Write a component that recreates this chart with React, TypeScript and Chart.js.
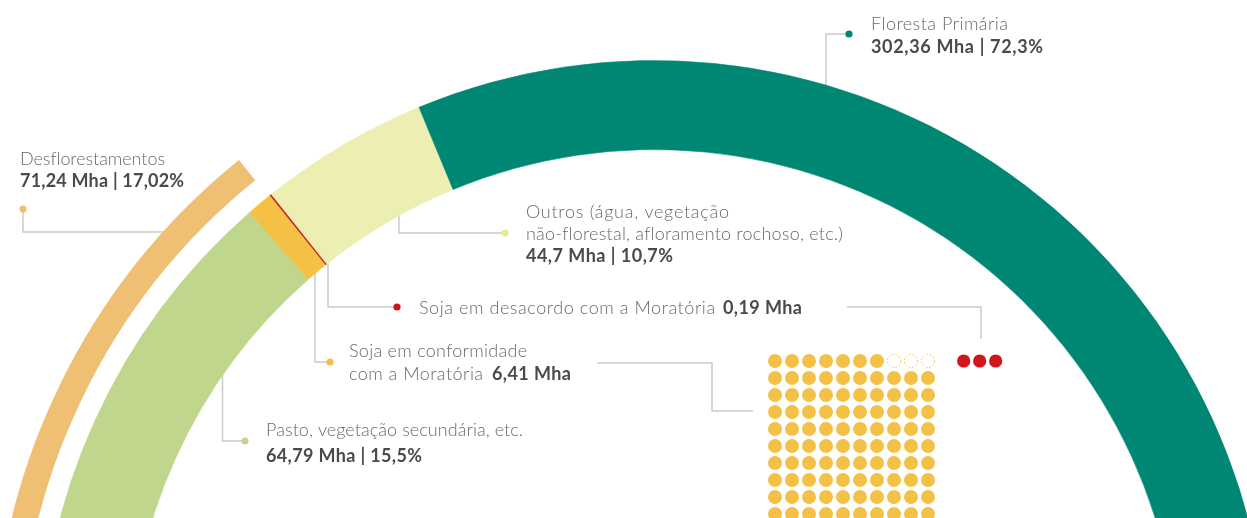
import { useEffect, useRef } from "react";
import { Chart, registerables } from "chart.js";

Chart.register(...registerables);

// ---------------- data ----------------
const ringCategories = [
  "Pasto, vegetação secundária, etc.",
  "Soja em conformidade com a Moratória",
  "Soja em desacordo com a Moratória",
  "Outros (água, vegetação não-florestal, afloramento rochoso, etc.)",
  "Floresta Primária",
];
// area of each land-use class (Mha) and share of the biome (%) as labelled
const ringAreaMha = [64.79, 6.41, 0.19, 44.7, 302.36];
const ringSharePct = [15.5, 1.53, 0.05, 10.7, 72.3];
// span of each segment on the half ring, as drawn in the picture (degrees out of 180)
const ringDrawnDeg = [48.8, 2.5, 0.15, 16.05, 112.5];
const ringColors = ["#BFD68C", "#F4C145", "#D0121B", "#ECEEB2", "#008774"];

const deforestLabel = "Desflorestamentos";
const deforestAreaMha = 71.24;
const deforestSharePct = 17.02;
const deforestDrawnDeg = 51.1; // span drawn in the picture (degrees out of 180)
const deforestColor = "#EFC074";

// dot grid (waffle) next to the soy labels
const waffleFilled = 97;
const waffleEmpty = 3;
const waffleRed = 3;
const waffleColumns = 10;
const waffleYellow = "#F4C147";
const waffleRedColor = "#D0161C";

// ---------------- helpers ----------------
const fmt = (v: number) => String(v).replace(".", ",");

const LIGHT = "300 18px Lato, 'Open Sans', sans-serif";
const BOLD = "700 18px Lato, 'Open Sans', sans-serif";
const LIGHT_COLOR = "#696969";
const BOLD_COLOR = "#4a4a4a";
const LINE_COLOR = "#cacaca";

// canvas placement (page pixels)
const RING_LEFT = -46;
const RING_TOP = -56;
const RING_W = 1400;
const RING_H = 800;
const OUTER_R = 661;
const INNER_R = 525;

type Run = { text: string; x: number; y: number; w: number; bold?: boolean };

function buildRuns(): Run[] {
  const [pasto, conf, desac, outros, floresta] = [0, 1, 2, 3, 4];
  return [
    { text: ringCategories[floresta], x: 871, y: 30, w: 137 },
    { text: `${fmt(ringAreaMha[floresta])} Mha | ${fmt(ringSharePct[floresta])}%`, x: 871, y: 53, w: 172, bold: true },
    { text: deforestLabel, x: 20, y: 165, w: 145 },
    { text: `${fmt(deforestAreaMha)} Mha | ${fmt(deforestSharePct)}%`, x: 20, y: 186.5, w: 164, bold: true },
    { text: "Outros (água, vegetação", x: 526, y: 218, w: 203 },
    { text: "não-florestal, afloramento rochoso, etc.)", x: 526, y: 240, w: 317 },
    { text: `${fmt(ringAreaMha[outros])} Mha | ${fmt(ringSharePct[outros])}%`, x: 526, y: 262, w: 147, bold: true },
    { text: ringCategories[desac], x: 419, y: 314, w: 296 },
    { text: `${fmt(ringAreaMha[desac])} Mha`, x: 723, y: 314, w: 79, bold: true },
    { text: "Soja em conformidade", x: 349, y: 357, w: 178 },
    { text: "com a Moratória", x: 349, y: 380, w: 134 },
    { text: `${fmt(ringAreaMha[conf])} Mha`, x: 492, y: 380, w: 79, bold: true },
    { text: ringCategories[pasto], x: 266, y: 436, w: 257 },
    { text: `${fmt(ringAreaMha[pasto])} Mha | ${fmt(ringSharePct[pasto])}%`, x: 266, y: 461.5, w: 156, bold: true },
  ];
}

const leaders: { pts: number[][]; dot?: string }[] = [
  { pts: [[849, 34], [826, 34], [826, 100]], dot: ringColors[4] },
  { pts: [[23, 209], [23, 232], [182, 232]], dot: deforestColor },
  { pts: [[505, 233], [399, 233], [399, 200]], dot: "#E6E8A2" },
  { pts: [[397, 307], [328, 307], [328, 250]], dot: ringColors[2] },
  { pts: [[330, 362], [315, 362], [315, 260]], dot: ringColors[1] },
  { pts: [[245, 441], [222.5, 441], [222.5, 360]], dot: ringColors[0] },
  { pts: [[847, 307], [981, 307], [981, 339]] },
  { pts: [[597, 363], [712, 363], [712, 411], [753, 411]] },
];

const annotationPlugin = {
  id: "annotations",
  beforeDatasetsDraw(chart: any) {
    const ctx = chart.ctx as CanvasRenderingContext2D;
    ctx.save();
    ctx.translate(-RING_LEFT, -RING_TOP);
    ctx.strokeStyle = LINE_COLOR;
    ctx.lineWidth = 1.5;
    leaders.forEach((l) => {
      ctx.beginPath();
      l.pts.forEach(([x, y], i) => (i === 0 ? ctx.moveTo(x, y) : ctx.lineTo(x, y)));
      ctx.stroke();
    });
    ctx.restore();
  },
  afterDatasetsDraw(chart: any) {
    const ctx = chart.ctx as CanvasRenderingContext2D;
    ctx.save();
    ctx.translate(-RING_LEFT, -RING_TOP);
    leaders.forEach((l) => {
      if (!l.dot) return;
      const [x, y] = l.pts[0];
      ctx.fillStyle = l.dot;
      ctx.beginPath();
      ctx.arc(x, y, 3.6, 0, Math.PI * 2);
      ctx.fill();
    });
    ctx.textBaseline = "alphabetic";
    ctx.textAlign = "left";
    buildRuns().forEach((r) => {
      ctx.font = r.bold ? BOLD : LIGHT;
      ctx.fillStyle = r.bold ? BOLD_COLOR : LIGHT_COLOR;
      (ctx as any).letterSpacing = "0px";
      const natural = ctx.measureText(r.text).width;
      const n = Math.max(r.text.length - 1, 1);
      const ls = Math.max(-1, Math.min(3, (r.w - natural) / n));
      (ctx as any).letterSpacing = `${ls.toFixed(2)}px`;
      ctx.fillText(r.text, r.x, r.y);
    });
    (ctx as any).letterSpacing = "0px";
    ctx.restore();
  },
};

function dashedCircle(): HTMLCanvasElement {
  const c = document.createElement("canvas");
  c.width = 16;
  c.height = 16;
  const g = c.getContext("2d")!;
  g.setLineDash([2, 1.6]);
  g.strokeStyle = waffleYellow;
  g.globalAlpha = 0.8;
  g.lineWidth = 1;
  g.beginPath();
  g.arc(8, 8, 6.6, 0, Math.PI * 2);
  g.stroke();
  return c;
}

export default function App() {
  const ringRef = useRef<HTMLCanvasElement>(null);
  const waffleRef = useRef<HTMLCanvasElement>(null);

  useEffect(() => {
    const ring = new Chart(ringRef.current!, {
      type: "doughnut",
      data: {
        labels: ringCategories,
        datasets: [
          {
            label: deforestLabel,
            data: [deforestDrawnDeg, 180 - deforestDrawnDeg],
            backgroundColor: [deforestColor, "rgba(0,0,0,0)"],
            borderWidth: 0,
            weight: 26,
          } as any,
          {
            label: "",
            data: [180],
            backgroundColor: ["rgba(0,0,0,0)"],
            borderWidth: 0,
            weight: 21,
          } as any,
          {
            label: "Área (Mha)",
            data: ringDrawnDeg,
            backgroundColor: ringColors,
            borderColor: ringColors,
            borderWidth: 0.6,
            weight: 89,
          } as any,
        ],
      },
      options: {
        responsive: false,
        animation: false,
        events: [],
        rotation: -90,
        circumference: 180,
        radius: OUTER_R,
        cutout: `${(INNER_R / OUTER_R) * 100}%`,
        layout: { padding: 0 },
        plugins: { legend: { display: false }, tooltip: { enabled: false } },
      } as any,
      plugins: [annotationPlugin],
    });

    const filled: { x: number; y: number }[] = [];
    const empty: { x: number; y: number }[] = [];
    const total = waffleFilled + waffleEmpty;
    for (let k = 0; k < total; k++) {
      const row = Math.floor(k / waffleColumns);
      const col = k % waffleColumns;
      if (row === 0 && col >= waffleColumns - waffleEmpty) empty.push({ x: col, y: row });
      else filled.push({ x: col, y: row });
    }
    const red = Array.from({ length: waffleRed }, (_, i) => ({ x: 11.1 + i * 0.94, y: 0 }));

    const waffle = new Chart(waffleRef.current!, {
      type: "scatter",
      data: {
        datasets: [
          { label: "conformidade", data: filled, pointRadius: 7, pointBackgroundColor: waffleYellow, pointBorderWidth: 0 },
          { label: "vazio", data: empty, pointRadius: 7, pointStyle: dashedCircle() as any, pointBorderWidth: 0 },
          { label: "desacordo", data: red, pointRadius: 6.6, pointBackgroundColor: waffleRedColor, pointBorderWidth: 0 },
        ],
      },
      options: {
        responsive: false,
        animation: false,
        events: [],
        layout: { padding: 0, autoPadding: false },
        scales: {
          x: { type: "linear", min: -1, max: 14, display: false },
          y: { type: "linear", min: -1, max: 10, reverse: true, display: false },
        },
        plugins: { legend: { display: false }, tooltip: { enabled: false } },
      } as any,
    });

    return () => {
      ring.destroy();
      waffle.destroy();
    };
  }, []);

  return (
    <div
      style={{
        position: "fixed",
        left: 0,
        top: 0,
        width: 1247,
        height: 518,
        overflow: "hidden",
        background: "#ffffff",
      }}
    >
      <canvas
        ref={ringRef}
        width={RING_W}
        height={RING_H}
        style={{ position: "absolute", left: RING_LEFT, top: RING_TOP, width: RING_W, height: RING_H }}
      />
      <canvas
        ref={waffleRef}
        width={255}
        height={187}
        style={{ position: "absolute", left: 758, top: 344, width: 255, height: 187 }}
      />
    </div>
  );
}
